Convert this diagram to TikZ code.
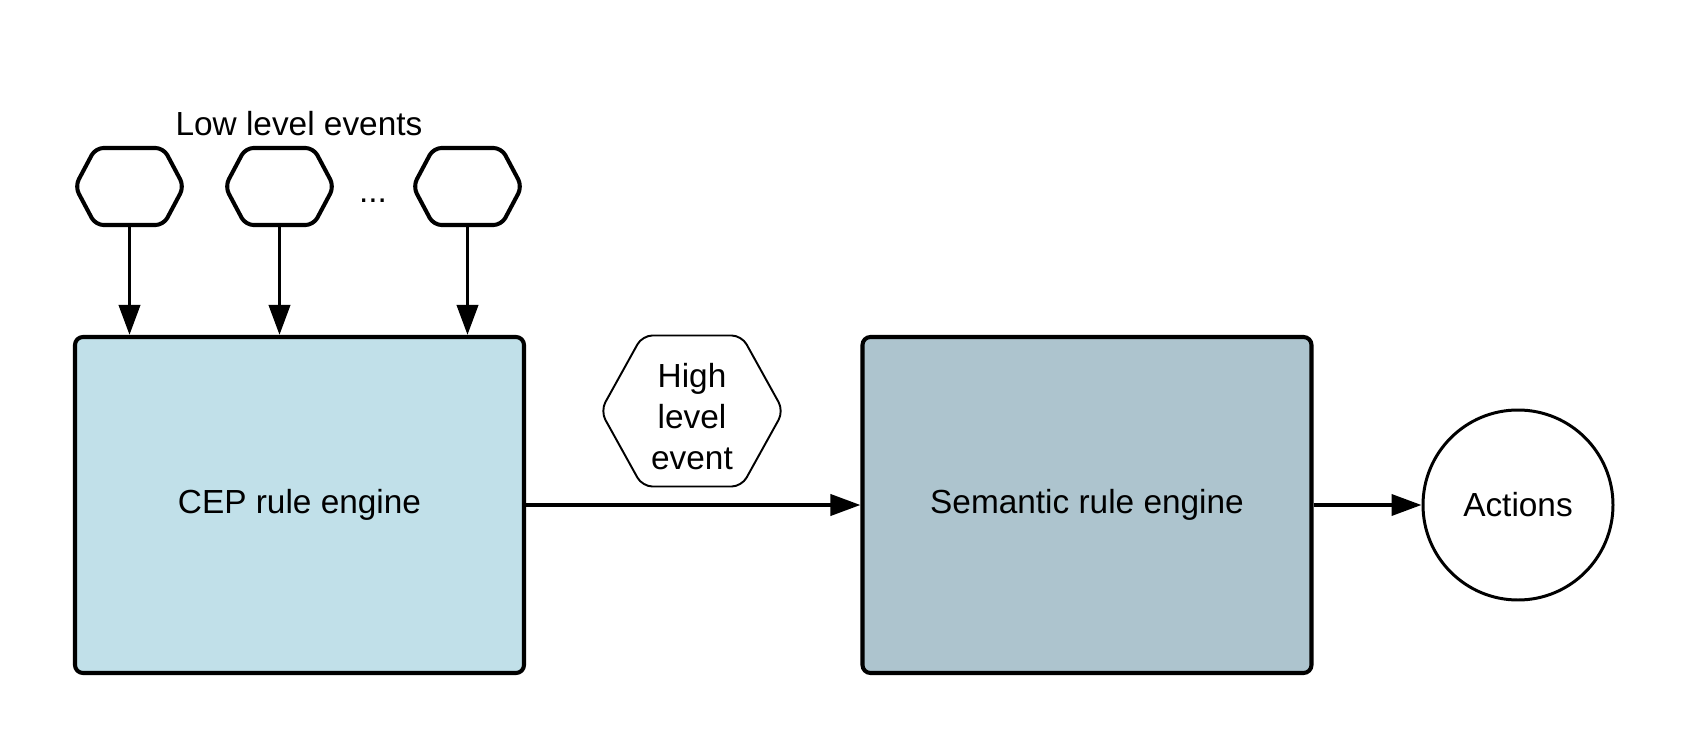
\documentclass[tikz,border=0pt]{standalone}
\usepackage{fontspec}
\setmainfont{Liberation Sans}
\usepackage{tikz}
\usetikzlibrary{positioning,arrows.meta,shapes.symbols}
\definecolor{cepblue}{RGB}{193,224,233}
\definecolor{semblue}{RGB}{173,196,206}

\begin{document}
\begin{tikzpicture}[
  font=\fontsize{19}{22.7}\selectfont,
  engine/.style={draw=black,line width=2.3pt,rounded corners=0.16cm,minimum width=8.98cm,minimum height=6.72cm},
  lowevent/.style={draw=black,fill=white,line width=2.3pt,rounded corners=0.16cm,shape=signal,signal to=east and west,signal from=nowhere,signal pointer angle=124,minimum width=2.18cm,minimum height=1.54cm,inner sep=0pt},
  highevent/.style={draw=black,fill=white,line width=1.1pt,rounded corners=0.2cm,shape=signal,signal to=east and west,signal from=nowhere,signal pointer angle=122,minimum width=3.66cm,minimum height=3.02cm,inner sep=0pt},
  flow/.style={-{Triangle[length=0.6cm,width=0.42cm]},line width=2.2pt},
]
\useasboundingbox (0,0) rectangle (33.76,15);
% Engines
\node[engine,fill=cepblue] (cep) at (5.99,4.9) {CEP rule engine};
\node[engine,fill=semblue] (sem) at (21.74,4.9) {Semantic rule engine};
\node[draw=black,fill=white,line width=1.7pt,circle,minimum size=3.8cm] (actions) at (30.36,4.9) {Actions};
% Events
\node[lowevent] (low1) at (2.59,11.27) {};
\node[lowevent] (low2) at (5.59,11.27) {};
\node[lowevent] (low3) at (9.35,11.27) {};
\node (dots) at (7.46,10.98) {...};
\node (lowlabel) at (5.98,12.52) {Low level events};
\node[highevent] (high) at (13.84,6.78) {\raisebox{-0.19cm}[\height][\depth]{\renewcommand\arraystretch{1.03}\begin{tabular}{@{}c@{}}High\\level\\event\end{tabular}}};
% Arrows
\draw[flow] (low1.south) -- (low1.south |- cep.north);
\draw[flow] (low2.south) -- (low2.south |- cep.north);
\draw[flow] (low3.south) -- (low3.south |- cep.north);
\draw[flow] (cep.east) -- (sem.west);
\draw[flow] (sem.east) -- (actions.west);
\end{tikzpicture}
\end{document}
